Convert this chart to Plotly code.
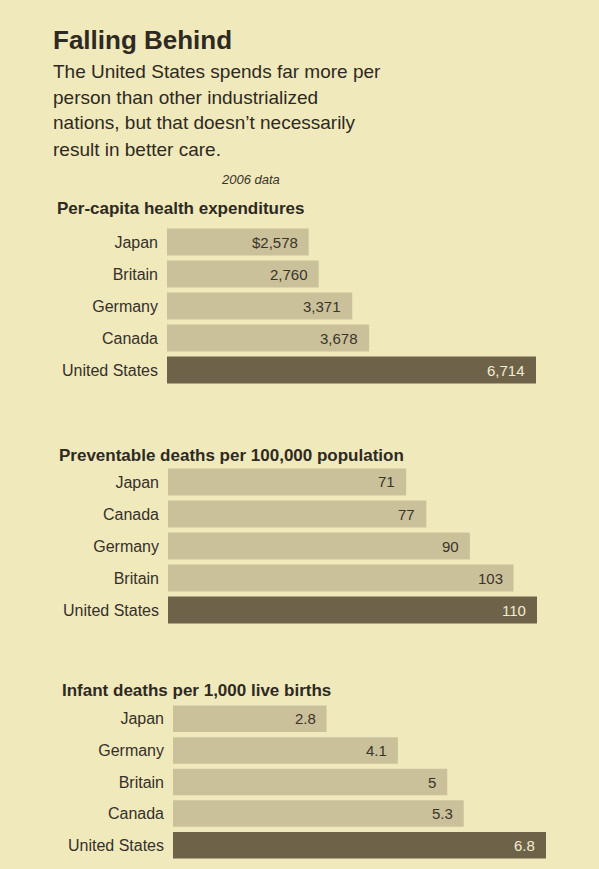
import plotly.graph_objects as go

# Data (2006)
spend_countries = ["Japan", "Britain", "Germany", "Canada", "United States"]
spend_values = [2578, 2760, 3371, 3678, 6714]
spend_labels = ["$2,578", "2,760", "3,371", "3,678", "6,714"]

prev_countries = ["Japan", "Canada", "Germany", "Britain", "United States"]
prev_values = [71, 77, 90, 103, 110]
prev_labels = ["71", "77", "90", "103", "110"]

infant_countries = ["Japan", "Germany", "Britain", "Canada", "United States"]
infant_values = [2.8, 4.1, 5.0, 5.3, 6.8]
infant_labels = ["2.8", "4.1", "5", "5.3", "6.8"]

title = "Falling Behind"
subtitle_lines = [
    "The United States spends far more per",
    "person than other industrialized",
    "nations, but that doesn\u2019t necessarily",
    "result in better care.",
]
note = "2006 data"
panel_titles = [
    "Per-capita health expenditures",
    "Preventable deaths per 100,000 population",
    "Infant deaths per 1,000 live births",
]

W, H = 599, 869
BG = "#F0E9BC"
LIGHT = "#CAC19A"
DARK = "#6E6349"
INK = "#2E2A22"
FONT = "Liberation Sans, Arial, sans-serif"


def px_x(x):
    return x / W


def px_y(y):
    return 1 - y / H


fig = go.Figure()

panels = [
    # countries, values, labels, x-span (px), y-span (px), header y (px), header x (px)
    (spend_countries, spend_values, spend_labels, (167, 536), (226, 386), 209, 55),
    (prev_countries, prev_values, prev_labels, (168, 537), (466, 626), 455, 57),
    (infant_countries, infant_values, infant_labels, (173, 546), (703, 861), 690, 60),
]

annotations = []
layout_axes = {}
for i, (cats, vals, labs, xs, ys, hy, hx) in enumerate(panels):
    n = i + 1
    xa = "x" if n == 1 else f"x{n}"
    ya = "y" if n == 1 else f"y{n}"
    colors = [DARK if c == "United States" else LIGHT for c in cats]
    fig.add_trace(go.Bar(
        x=vals, y=cats, orientation="h",
        marker=dict(color=colors, line=dict(width=0)),
        xaxis=xa, yaxis=ya, hoverinfo="skip", showlegend=False,
    ))
    xkey = "xaxis" if n == 1 else f"xaxis{n}"
    ykey = "yaxis" if n == 1 else f"yaxis{n}"
    layout_axes[xkey] = dict(
        domain=[px_x(xs[0]), px_x(xs[1])], range=[0, max(vals)],
        anchor=ya, visible=False, fixedrange=True,
    )
    layout_axes[ykey] = dict(
        domain=[px_y(ys[1]), px_y(ys[0])], anchor=xa,
        type="category", categoryorder="array", categoryarray=cats,
        autorange="reversed", showgrid=False, zeroline=False, showline=False,
        ticks="", ticklabelstandoff=8,
        tickfont=dict(family=FONT, size=16, color="#35302A"),
        fixedrange=True,
    )
    for c, v, lab in zip(cats, vals, labs):
        annotations.append(dict(
            x=v, y=c, xref=xa, yref=ya, text=lab, showarrow=False,
            xanchor="right", yanchor="middle", xshift=-9,
            font=dict(family=FONT, size=15,
                      color="#F2ECD2" if c == "United States" else "#3A342A"),
        ))
    annotations.append(dict(
        x=px_x(hx), y=px_y(hy), xref="paper", yref="paper",
        text=f"<b>{panel_titles[i]}</b>", showarrow=False,
        xanchor="left", yanchor="middle",
        font=dict(family=FONT, size=17, color=INK),
    ))

# Headline, deck and note
annotations.append(dict(
    x=px_x(51), y=px_y(40), xref="paper", yref="paper",
    text=f"<b>{title}</b>", showarrow=False, xanchor="left", yanchor="middle",
    font=dict(family=FONT, size=26, color=INK),
))
for line, yy in zip(subtitle_lines, [71, 97, 123, 149]):
    annotations.append(dict(
        x=px_x(51), y=px_y(yy), xref="paper", yref="paper",
        text=line, showarrow=False, xanchor="left", yanchor="middle",
        font=dict(family=FONT, size=19, color=INK),
    ))
annotations.append(dict(
    x=px_x(250), y=px_y(179), xref="paper", yref="paper",
    text=f"<i>{note}</i>", showarrow=False, xanchor="center", yanchor="middle",
    font=dict(family=FONT, size=13, color="#3A342A"),
))

fig.update_layout(
    width=W, height=H,
    margin=dict(l=0, r=0, t=0, b=0),
    paper_bgcolor=BG, plot_bgcolor=BG,
    bargap=0.16,
    annotations=annotations,
    **layout_axes,
)

fig.write_html("out.html", config={"displayModeBar": False})
